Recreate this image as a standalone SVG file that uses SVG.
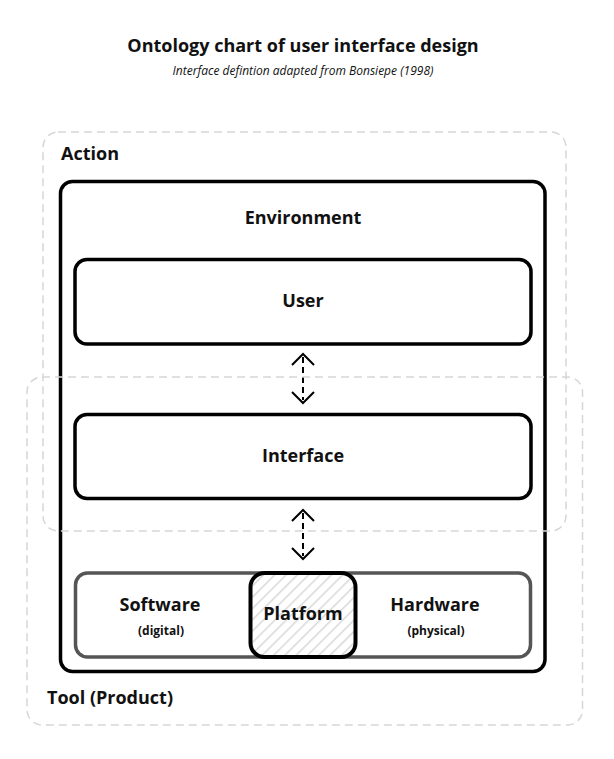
<svg xmlns="http://www.w3.org/2000/svg" width="614" height="759" viewBox="0 0 614 759">
<style>
text{font-family:"Open Sans","DejaVu Sans",sans-serif;fill:#111;text-anchor:middle}
.t{font-weight:700;font-size:18px}
.s{font-style:italic;font-size:12px}
.l{font-weight:700;font-size:18px}
.sm{font-weight:700;font-size:12px}
.box{fill:#fff;stroke:#000;stroke-width:3.5}
.grp{fill:none;stroke:#d6d6d6;stroke-width:1.5;stroke-dasharray:8 5}
.conn{fill:none;stroke:#000;stroke-width:2}
</style>
<defs>
<pattern id="hatch" patternUnits="userSpaceOnUse" width="8" height="8" patternTransform="rotate(45)">
<rect width="8" height="8" fill="#fff"/>
<line x1="0" y1="0" x2="0" y2="8" stroke="#d8d8d8" stroke-width="3"/>
</pattern>
</defs>
<rect width="614" height="759" fill="#fff"/>
<text class="t" x="303" y="52">Ontology chart of user interface design</text>
<text class="s" x="303" y="75">Interface defintion adapted from Bonsiepe (1998)</text>

<g id="environment">
<rect class="box" x="60.5" y="181.5" width="484.5" height="490" rx="12"/>
<text class="l" x="303" y="224">Environment</text>
</g>
<g id="user">
<rect class="box" x="75" y="259.5" width="456" height="84.5" rx="12"/>
<text class="l" x="303" y="307">User</text>
</g>
<g id="interface">
<rect class="box" x="75" y="414.5" width="456" height="84" rx="12"/>
<text class="l" x="303" y="462">Interface</text>
</g>
<g id="tool-bar">
<rect x="75.5" y="573" width="455" height="84" rx="12" fill="#fff" stroke="#555" stroke-width="3.5"/>
<text class="l" x="160" y="611">Software</text>
<text class="sm" x="161" y="635">(digital)</text>
<text class="l" x="435" y="611">Hardware</text>
<text class="sm" x="436" y="635">(physical)</text>
</g>
<g id="platform">
<rect x="250.5" y="573" width="105" height="84" rx="14" fill="url(#hatch)" stroke="#000" stroke-width="4"/>
<text class="l" x="303" y="620">Platform</text>
</g>

<g id="connectors">
<line class="conn" x1="303" y1="357" x2="303" y2="400" stroke-dasharray="6 4"/>
<polyline class="conn" points="292,365 303,354 314,365"/>
<polyline class="conn" points="292,392 303,403 314,392"/>
<line class="conn" x1="303" y1="513" x2="303" y2="556" stroke-dasharray="6 4"/>
<polyline class="conn" points="292,521 303,510 314,521"/>
<polyline class="conn" points="292,548 303,559 314,548"/>
</g>

<g id="action">
<rect class="grp" x="43" y="132" width="523" height="399" rx="15"/>
<text class="l" x="61" y="160" style="text-anchor:start">Action</text>
</g>
<g id="tool">
<rect class="grp" x="27" y="377" width="555.5" height="348" rx="15"/>
<text class="l" x="47" y="704" style="text-anchor:start">Tool (Product)</text>
</g>
</svg>
